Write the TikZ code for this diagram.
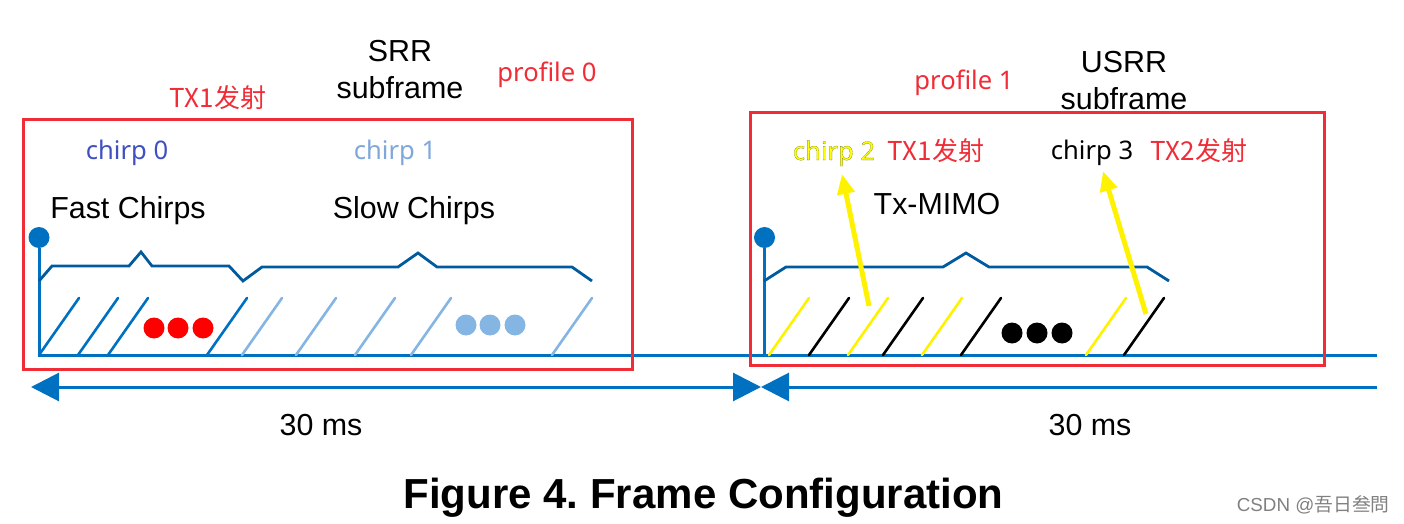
\documentclass[tikz,border=0pt]{standalone}
\usepackage{fontspec}
\setmainfont{Liberation Sans}
\newfontfamily\nsf{Noto Sans}
\newfontfamily\nsfo[FakeBold=0.5]{Noto Sans}
\newfontfamily\cjkf{Noto Sans CJK SC}
\usetikzlibrary{arrows.meta}
\definecolor{tline}{HTML}{0070C0}
\definecolor{bracec}{HTML}{005A9E}
\definecolor{lightb}{HTML}{85B6E3}
\definecolor{redc}{HTML}{F02C37}
\definecolor{chirpz}{HTML}{4050C0}
\definecolor{chirpo}{HTML}{7FA7D9}
\tikzset{
  x=0.5pt,y=-0.5pt,
  lab/.style={anchor=base,inner sep=0pt,font=\fontsize{15.2}{18}\selectfont},
  nlab/.style={anchor=base,inner sep=0pt,font=\nsf\fontsize{12.8}{15}\selectfont},
  rlab/.style={anchor=base,inner sep=0pt,text=redc,font=\cjkf\fontsize{13}{15}\selectfont},
  ramp/.style={line width=1.3pt,line cap=round},
  axisl/.style={line width=1.5pt,tline},
  brc/.style={line width=1.4pt,bracec,line join=miter},
  boxr/.style={draw=redc,line width=1.5pt},
  spanar/.style={axisl,{Triangle[length=14pt,width=14pt]}-{Triangle[length=14pt,width=14pt]}},
  spanal/.style={axisl,{Triangle[length=14pt,width=14pt]}-},
  yarr/.style={yellow,line width=2.5pt,-{Triangle[length=10pt,width=8.5pt]}},
  dotf/.style={circle,inner sep=0pt,minimum size=10.5pt},
}
\begin{document}
\frenchspacing
\begin{tikzpicture}
\useasboundingbox (0,0) rectangle (1404,524);
% timeline
\coordinate (t0) at (38,355);
\coordinate (t1) at (1377,355);
\draw[axisl] (t0) -- (t1);
% ramps
\foreach \b in {39,78,108,207} \draw[ramp,tline] (\b,355) -- ++(40,-57);
\foreach \b in {242,296,355,411,552} \draw[ramp,lightb] (\b,355) -- ++(40,-57);
\foreach \b in {769,848,922,1086} \draw[ramp,yellow] (\b,355) -- ++(40,-57);
\foreach \b in {809,883,961,1124} \draw[ramp,black] (\b,355) -- ++(40,-57);
% stems with pins
\node[dotf,fill=tline] (pinA) at (39,237.5) {};
\node[dotf,fill=tline] (pinB) at (764.5,237.5) {};
\coordinate (stemA) at (39,355);
\coordinate (stemB) at (764.5,355);
\draw[axisl] (pinA) -- (stemA);
\draw[axisl] (pinB) -- (stemB);
% braces
\draw[brc] (39,281) -- (52,266) -- (129,266) -- (141,252) -- (152,266) -- (229,266) -- (243,281) -- (262,267) -- (398,267) -- (418,253) -- (437,267) -- (572,267) -- (592,281);
\draw[brc] (764,281) -- (786,267) -- (943,267) -- (966,253) -- (989,267) -- (1147,267) -- (1169,281);
% dots
\foreach \n/\x in {ra/154,rb/178,rc/203} \node[dotf,fill=red] (\n) at (\x,328) {};
\foreach \n/\x in {ba/466,bb/490,bc/515} \node[dotf,fill=lightb] (\n) at (\x,325) {};
\foreach \n/\x in {ka/1012,kb/1037,kc/1062} \node[dotf,fill=black] (\n) at (\x,333) {};
% red boxes
\draw[boxr] (23,120) rectangle (632,369);
\draw[boxr] (750,113) rectangle (1324,365);
% span arrows
\coordinate (sa) at (31,387);
\coordinate (sb) at (761,387);
\coordinate (sc) at (761,387);
\coordinate (sd) at (1377,387);
\draw[spanar] (sa) -- (sb);
\draw[spanal] (sc) -- (sd);
% labels
\node[lab] (srr) at (400,62) {SRR};
\node[lab] (srrs) at (400,99) {subframe};
\node[lab] (usrr) at (1124,73) {USRR};
\node[lab] (usrrs) at (1124,110) {subframe};
\node[nlab,text=redc] (p0) at (547,82) {profile 0};
\node[nlab,text=redc] (p1) at (964,90) {profile 1};
\node[rlab] (tx0) at (218,108) {TX1发射};
\node[nlab,text=chirpz] (c0) at (127,160) {chirp 0};
\node[nlab,text=chirpo] (c1) at (395,160) {chirp 1};
\node[nlab] (c2) at (834,160) {\nsfo\special{pdf:bcolor [1 1 0] [0.36 0.36 0]}chirp 2\special{pdf:ecolor}};
\node[nlab] (c3) at (1092,160) {chirp 3};
\node[rlab] (tx1) at (936,161) {TX1发射};
\node[rlab] (tx2) at (1199,161) {TX2发射};
\node[lab] (fc) at (128,219) {Fast Chirps};
\node[lab] (sc2) at (414,219) {Slow Chirps};
\node[lab] (mimo) at (937,214) {Tx-MIMO};
\node[lab] (ms0) at (321,435) {30 ms};
\node[lab] (ms1) at (1090,435) {30 ms};
\node[anchor=base,inner sep=0pt,font=\bfseries\fontsize{21}{24}\selectfont] (title) at (703.5,508) {Figure 4. Frame Configuration};
\node[anchor=base east,inner sep=0pt,text=black!50,font=\fontsize{9.4}{11}\selectfont] (wm) at (1390,511) {CSDN @{\cjkf 吾日叁問}};
% yellow arrows
\coordinate (y1s) at (869,306);
\coordinate (y1e) at (842,174);
\coordinate (y2s) at (1146,314);
\coordinate (y2e) at (1103,171);
\draw[yarr] (y1s) -- (y1e);
\draw[yarr] (y2s) -- (y2e);
\end{tikzpicture}
\end{document}
